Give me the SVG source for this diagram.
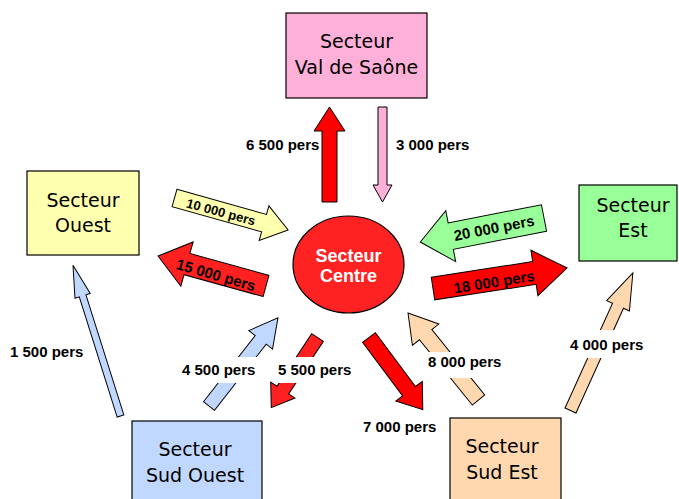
<svg xmlns="http://www.w3.org/2000/svg" width="679" height="499" viewBox="0 0 679 499">
<style>
.box{stroke:#000;stroke-width:1.2}
.nt{font-family:"DejaVu Sans",sans-serif;font-size:19px;fill:#000;text-anchor:middle}
.ar{stroke:#000;stroke-width:1;stroke-linejoin:miter}
.lb{font-family:"Liberation Sans",Arial,sans-serif;font-weight:bold;font-size:15px;fill:#000}
.ct{font-family:"Liberation Sans",Arial,sans-serif;font-weight:bold;font-size:18px;fill:#fff;text-anchor:middle}
.red{fill:#FF0000}.red2{fill:#FF2020}.yel{fill:#FFFFB0}.grn{fill:#99FF99}.blu{fill:#C0D8FF}.pch{fill:#FFD8B0}.pnk{fill:#FFB0D8}
</style>
<rect width="679" height="499" fill="#fff"/>
<g id="connectors">
  <polygon class="ar red" transform="translate(329.5,202) rotate(-90)" points="0,-7.5 71,-7.5 71,-15.5 95,0 71,15.5 71,7.5 0,7.5"/>
  <polygon class="ar pnk" transform="translate(382.5,107) rotate(90)" points="0,-4.5 78,-4.5 78,-9.5 95,0 78,9.5 78,4.5 0,4.5"/>
  <polygon class="ar yel" transform="translate(174.5,198) rotate(15.7)" points="0,-9 93,-9 93,-18 118,0 93,18 93,9 0,9"/>
  <polygon class="ar red2" transform="translate(266,286) rotate(195.5)" points="0,-11 82,-11 82,-23 112,0 82,23 82,11 0,11"/>
  <polygon class="ar grn" transform="translate(544,218) rotate(169)" points="0,-13.5 95,-13.5 95,-26 126,0 95,26 95,13.5 0,13.5"/>
  <polygon class="ar red" transform="translate(433,288.5) rotate(-8.7)" points="0,-11.5 102.6,-11.5 102.6,-23 135.6,0 102.6,23 102.6,11.5 0,11.5"/>
  <polygon class="ar blu" transform="translate(120.5,416) rotate(-107.5)" points="0,-3.5 126,-3.5 126,-8 158,0 126,8 126,3.5 0,3.5"/>
  <polygon class="ar blu" transform="translate(209,406) rotate(-52)" points="0,-7 84,-7 84,-15 112,0 84,15 84,7 0,7"/>
  <polygon class="ar red2" transform="translate(317.5,337.5) rotate(123.4)" points="0,-7 63,-7 63,-14.5 84,0 63,14.5 63,7 0,7"/>
  <polygon class="ar red" transform="translate(369,337.5) rotate(53.3)" points="0,-8 67,-8 67,-16.5 90,0 67,16.5 67,8 0,8"/>
  <polygon class="ar pch" transform="translate(478.5,400) rotate(-129)" points="0,-8 84,-8 84,-17 112,0 84,17 84,8 0,8"/>
  <polygon class="ar pch" transform="translate(570.5,410.5) rotate(-65.6)" points="0,-6 115,-6 115,-12.5 151,0 115,12.5 115,6 0,6"/>
  <g id="labels">
    <text class="lb" x="246" y="150">6 500 pers</text>
    <text class="lb" x="396" y="150">3 000 pers</text>
    <text class="lb" x="10" y="357">1 500 pers</text>
    <rect x="179" y="357" width="80" height="26" fill="#fff"/>
    <text class="lb" x="182" y="375">4 500 pers</text>
    <rect x="275" y="357" width="80" height="26" fill="#fff"/>
    <text class="lb" x="278" y="375">5 500 pers</text>
    <text class="lb" x="363" y="432">7 000 pers</text>
    <rect x="425" y="352" width="81" height="26" fill="#fff"/>
    <text class="lb" x="428" y="367">8 000 pers</text>
    <rect x="567" y="330" width="80" height="28" fill="#fff"/>
    <text class="lb" x="570" y="350">4 000 pers</text>
    <text class="lb" style="font-size:13px" text-anchor="middle" transform="translate(221,212) rotate(15)" dy="0.35em">10 000 pers</text>
    <text class="lb" text-anchor="middle" transform="translate(216,275) rotate(16)" dy="0.35em">15 000 pers</text>
    <text class="lb" text-anchor="middle" transform="translate(494,228) rotate(-11)" dy="0.35em">20 000 pers</text>
    <text class="lb" text-anchor="middle" transform="translate(494,282) rotate(-9)" dy="0.35em">18 000 pers</text>
  </g>
</g>
<g id="val-de-saone">
  <rect class="box pnk" x="286" y="13" width="141" height="85"/>
  <text class="nt" x="356.5" y="48">Secteur</text>
  <text class="nt" x="356.5" y="74">Val de Saône</text>
</g>
<g id="ouest">
  <rect class="box yel" x="27" y="171" width="112" height="84"/>
  <text class="nt" x="83" y="207">Secteur</text>
  <text class="nt" x="83" y="232">Ouest</text>
</g>
<g id="est">
  <rect class="box grn" x="579" y="185" width="98" height="76"/>
  <text class="nt" x="633" y="212">Secteur</text>
  <text class="nt" x="633" y="237">Est</text>
</g>
<g id="sud-ouest">
  <rect class="box blu" x="132" y="421" width="130" height="90"/>
  <text class="nt" x="195" y="456">Secteur</text>
  <text class="nt" x="195" y="482">Sud Ouest</text>
</g>
<g id="sud-est">
  <rect class="box pch" x="450" y="418" width="111" height="90"/>
  <text class="nt" x="502" y="453">Secteur</text>
  <text class="nt" x="502" y="479">Sud Est</text>
</g>
<g id="centre">
  <ellipse cx="348.5" cy="264.5" rx="55.5" ry="48.5" fill="#FF2222" stroke="#000" stroke-width="1.2"/>
  <text class="ct" x="348.5" y="262">Secteur</text>
  <text class="ct" x="348.5" y="282">Centre</text>
</g>
</svg>
